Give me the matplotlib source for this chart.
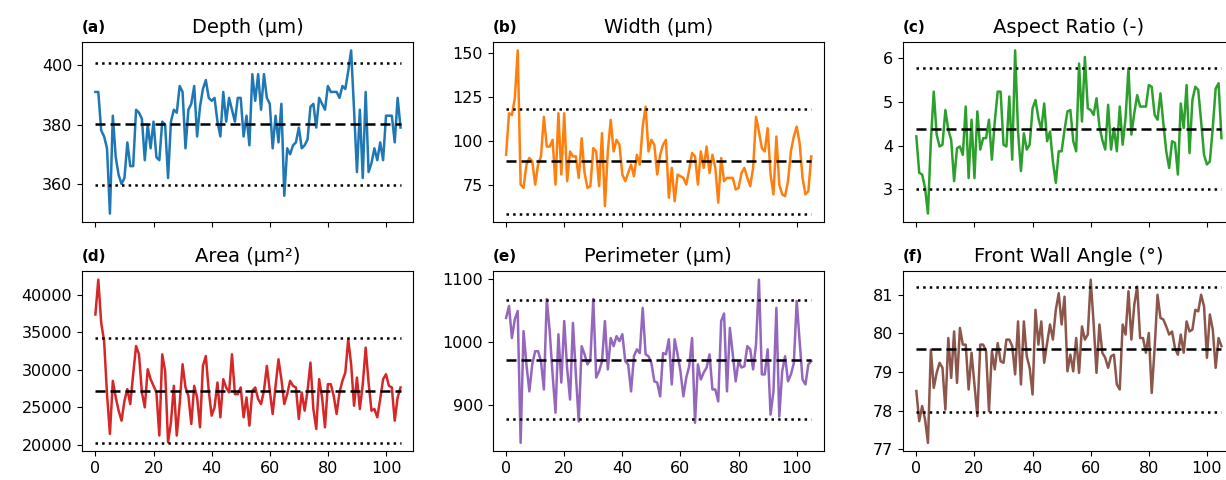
import numpy as np
import matplotlib
matplotlib.use("Agg")
import matplotlib.pyplot as plt

# per-cross-section measurements along the track (index = section number)
DEPTH = [391, 391, 378, 376, 372, 350, 383, 369, 363, 360, 362, 374, 366, 366, 385, 384,
         382, 368, 380, 372, 381, 369, 368, 381, 380, 362, 381, 385, 384, 393, 391, 372,
         385, 387, 393, 376, 386, 392, 395, 389, 388, 389, 381, 376, 391, 381, 389, 385,
         381, 389, 389, 376, 383, 373, 397, 388, 397, 385, 397, 389, 387, 372, 383, 374,
         387, 356, 372, 370, 373, 374, 379, 372, 373, 375, 386, 387, 379, 389, 387, 385,
         393, 391, 391, 391, 389, 393, 392, 398, 405, 385, 364, 385, 362, 391, 364, 367,
         372, 368, 374, 368, 383, 383, 383, 374, 389, 379]
WIDTH = [92.4, 116, 115, 124.4, 151.7, 75.5, 73.6, 86.8, 90.6, 88.7, 75.5, 86.8, 91.5, 114,
         97.1, 97.1, 100.9, 75.5, 116, 81.2, 116, 77.4, 94.3, 91.5, 91.5, 79.3, 101.8, 82.1,
         73.6, 74.6, 96.2, 94.3, 74.6, 104.7, 63.3, 94.3, 112.2, 94.3, 100.9, 98.1, 81.2, 77.4,
         82.1, 86.8, 80.2, 92.4, 86.8, 108.4, 119.7, 94.3, 100.9, 98.1, 81.2, 92.4, 98.1, 100.9,
         68, 85, 66, 81.2, 80.2, 79.3, 75.5, 84, 93.4, 91.5, 75.5, 94.3, 85, 97.1, 82.1, 92.4,
         85, 65.2, 90.6, 77.4, 79.3, 79.3, 79.3, 72.7, 73.6, 82.1, 85, 79.3, 74.6, 85, 114,
         105.6, 96.2, 94.3, 107.5, 81.2, 69.9, 102.8, 75.5, 69.9, 68.9, 77.4, 94.3, 102.8,
         108.4, 99, 79.3, 69.9, 71.8, 91.5]
ASPECT = [4.21, 3.38, 3.34, 3.04, 2.45, 4.10, 5.23, 4.25, 3.98, 4.02, 4.81, 4.36, 4.13, 3.19,
          3.94, 3.98, 3.79, 4.89, 3.26, 4.59, 3.26, 4.78, 3.91, 4.17, 4.17, 4.59, 3.68, 4.55,
          5.23, 5.23, 4.02, 3.98, 5.12, 3.68, 6.17, 4.32, 3.42, 4.28, 3.91, 4.02, 4.85, 5.04,
          4.63, 4.36, 4.96, 4.10, 4.32, 3.64, 3.15, 3.87, 3.87, 4.36, 4.78, 4.81, 4.10, 3.87,
          5.87, 4.55, 6.02, 4.85, 4.81, 4.70, 5.08, 4.44, 4.13, 3.91, 4.93, 3.91, 4.40, 3.87,
          4.89, 4.02, 4.63, 5.76, 4.25, 4.74, 5.15, 4.89, 4.89, 4.89, 5.38, 5.34, 4.70, 4.59,
          5.19, 4.51, 3.87, 3.49, 4.10, 4.06, 3.34, 4.96, 4.40, 5.38, 3.83, 5.04, 5.34, 5.27,
          4.55, 3.79, 3.57, 3.64, 4.40, 5.30, 5.42, 4.17]
AREA = [37350, 41990, 36250, 33820, 26760, 21460, 28520, 26310, 24550, 23220, 25870, 27420,
        25430, 29400, 33160, 32050, 26980, 24990, 30070, 28740, 27860, 26980, 21240, 32050,
        29850, 20350, 23000, 27860, 21240, 25430, 30730, 27640, 26530, 22780, 27860, 26310,
        22340, 30510, 31830, 27200, 23890, 24990, 28300, 23670, 28740, 27640, 26980, 32050,
        26760, 26760, 27640, 23670, 26310, 22560, 27200, 27640, 26090, 25430, 27200, 30510,
        27200, 24110, 27860, 31390, 28740, 25430, 26760, 28520, 27860, 27640, 23450, 26980,
        24550, 27200, 30950, 24770, 22120, 28740, 26310, 22340, 28080, 28080, 26530, 24110,
        26980, 28520, 29620, 34040, 30730, 25210, 28960, 24770, 28080, 32940, 28300, 24550,
        24770, 23670, 26090, 28740, 29400, 27860, 27640, 23220, 26310, 27640]
PERIMETER = [1038, 1057, 1006, 1036, 1049, 839, 1017, 964, 921, 964, 985, 985, 969, 924,
             1068, 1017, 948, 887, 1012, 935, 1033, 958, 908, 1030, 948, 873, 993, 980, 964,
             972, 1068, 943, 953, 969, 1033, 956, 1006, 993, 1009, 1001, 1012, 969, 964, 921,
             977, 988, 982, 1054, 980, 977, 966, 937, 935, 913, 982, 980, 1004, 932, 1004, 980,
             953, 913, 943, 961, 1006, 871, 964, 940, 951, 959, 980, 924, 924, 905, 1033, 1045,
             921, 1022, 980, 937, 969, 959, 961, 993, 988, 956, 996, 1099, 948, 948, 988, 884,
             921, 1054, 881, 953, 977, 937, 948, 966, 1065, 1001, 940, 932, 964, 969]
WALL_ANGLE = [78.51, 77.73, 78.12, 77.78, 77.17, 79.58, 78.59, 78.98, 79.24, 79.11, 78.03,
              79.88, 78.85, 80.05, 78.72, 80.14, 79.71, 79.71, 78.55, 79.50, 78.68, 77.86,
              79.71, 79.71, 79.54, 77.99, 79.54, 79.07, 79.75, 79.28, 79.24, 79.84, 79.84,
              79.67, 78.94, 80.31, 78.68, 80.31, 79.41, 79.11, 78.42, 80.61, 79.71, 80.31,
              79.24, 79.75, 80.23, 79.84, 80.61, 81.04, 80.23, 80.95, 79.02, 79.45, 79.02,
              79.88, 78.98, 80.18, 79.84, 79.97, 81.39, 80.27, 78.98, 80.23, 79.50, 79.37,
              79.11, 79.41, 79.45, 78.68, 78.55, 80.23, 79.97, 81.09, 79.84, 80.74, 81.21,
              79.88, 79.88, 79.50, 80.01, 78.46, 79.62, 81.00, 80.40, 80.36, 80.18, 79.97,
              80.05, 79.62, 79.45, 79.97, 79.50, 80.31, 80.05, 80.10, 80.61, 80.57, 81.00,
              80.70, 79.37, 80.49, 80.10, 79.11, 79.88, 79.67]

SERIES = [DEPTH, WIDTH, ASPECT, AREA, PERIMETER, WALL_ANGLE]
TITLES = ["Depth (µm)", "Width (µm)", "Aspect Ratio (-)",
          "Area (µm²)", "Perimeter (µm)", "Front Wall Angle (°)"]
TAGS = ["(a)", "(b)", "(c)", "(d)", "(e)", "(f)"]

# mean and lower / upper limit per quantity
MEANS = [380.2, 88.7, 4.38, 27220, 971.5, 79.6]
LOWER = [359.7, 59.0, 3.01, 20270, 877.6, 77.96]
UPPER = [400.8, 118.4, 5.76, 34170, 1066.0, 81.21]

YTICKS = [[360, 380, 400], [75, 100, 125, 150], [3, 4, 5, 6],
          [20000, 25000, 30000, 35000, 40000], [900, 1000, 1100], [77, 78, 79, 80, 81]]
XTICKS = [0, 20, 40, 60, 80, 100]

plt.rcParams["font.family"] = "DejaVu Sans"
fig = plt.figure(figsize=(12.26, 4.80), dpi=100)

lefts = [0.0669, 0.4019, 0.7365]
bottoms = [0.538, 0.0604]
w, h = 0.270, 0.374

for k, vals in enumerate(SERIES):
    row, col = divmod(k, 3)
    ax = fig.add_axes([lefts[col], bottoms[row], w, h])
    x = np.arange(len(vals))
    ax.plot(x, vals, color=f"C{k}", lw=1.8)
    xr = [x[0], x[-1]]
    ax.plot(xr, [MEANS[k]] * 2, color="black", ls=(0, (4, 2)), lw=1.8)
    ax.plot(xr, [LOWER[k]] * 2, color="black", ls=":", lw=1.8)
    ax.plot(xr, [UPPER[k]] * 2, color="black", ls=":", lw=1.8)

    ax.set_xlim(-4.6, 109.3)
    ax.set_xticks(XTICKS)
    if row == 0:
        ax.set_xticklabels([])
    ax.set_yticks(YTICKS[k])
    ax.tick_params(labelsize=11.5)
    ax.set_title(TITLES[k], fontsize=14, pad=7)
    ax.text(0.0, 1.04, TAGS[k], transform=ax.transAxes, fontsize=11,
            fontweight="bold", ha="left", va="bottom")

fig.savefig("out.png", dpi=100)
